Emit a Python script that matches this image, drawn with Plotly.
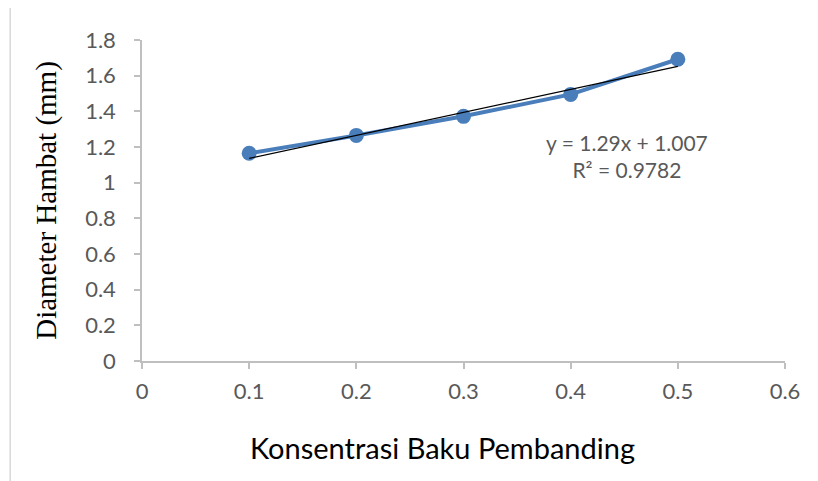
import plotly.graph_objects as go

x_vals = [0.1, 0.2, 0.3, 0.4, 0.5]
y_vals = [1.165, 1.265, 1.372, 1.495, 1.692]
slope = 1.29
intercept = 1.007
eq_text = "y = 1.29x + 1.007<br>R² = 0.9782"
x_title = "Konsentrasi Baku Pembanding"
y_title = "Diameter Hambat (mm)"
x_ticks = [0, 0.1, 0.2, 0.3, 0.4, 0.5, 0.6]
x_tick_text = ["0", "0.1", "0.2", "0.3", "0.4", "0.5", "0.6"]
y_ticks = [0, 0.2, 0.4, 0.6, 0.8, 1, 1.2, 1.4, 1.6, 1.8]
y_tick_text = ["0", "0.2", "0.4", "0.6", "0.8", "1", "1.2", "1.4", "1.6", "1.8"]

trend_y = [slope * v + intercept for v in x_vals]
SANS = "Lato, Open Sans, sans-serif"

fig = go.Figure()
fig.add_trace(go.Scatter(
    x=x_vals, y=y_vals, mode="lines+markers",
    line=dict(color="#4a7ebb", width=4),
    marker=dict(color="#4a7ebb", size=15),
    showlegend=False, hoverinfo="skip"))
fig.add_trace(go.Scatter(
    x=[x_vals[0], x_vals[-1]], y=[trend_y[0], trend_y[-1]], mode="lines",
    line=dict(color="black", width=1.3),
    showlegend=False, hoverinfo="skip"))

fig.add_annotation(x=0.4526, y=1.15, xref="x", yref="y", text=eq_text,
                   showarrow=False, align="center",
                   font=dict(family=SANS, size=21, color="#595959"))

# x-axis title (offset slightly left of axis centre, as in the reference)
fig.add_annotation(x=0.467, y=-0.271, xref="paper", yref="paper", text=x_title,
                   showarrow=False, xanchor="center", yanchor="middle",
                   font=dict(family=SANS, size=29, color="black"))

axis_common = dict(showgrid=False, zeroline=False, showline=True,
                   linecolor="#BFBFBF", linewidth=1.5,
                   ticks="outside", tickcolor="#BFBFBF", ticklen=6, tickwidth=1.5,
                   tickfont=dict(family=SANS, size=22, color="#595959"))

fig.update_xaxes(range=[0, 0.6], tickvals=x_ticks, ticktext=x_tick_text,
                 ticklabelstandoff=4, **axis_common)
fig.update_yaxes(range=[0, 1.8], tickvals=y_ticks, ticktext=y_tick_text,
                 ticklabelstandoff=14,
                 title=dict(text=y_title, standoff=20,
                            font=dict(family="Liberation Serif, serif", size=29, color="black")),
                 **axis_common)

fig.add_shape(type="rect", xref="paper", yref="paper",
              x0=-0.205, x1=1.06, y0=-0.4, y1=1.106,
              line=dict(color="#D9D9D9", width=1.5), fillcolor="rgba(0,0,0,0)", layer="below")

fig.update_layout(width=818, height=481, plot_bgcolor="white", paper_bgcolor="white",
                  margin=dict(l=134, r=41, t=32, b=128))

fig.write_html("out.html")
